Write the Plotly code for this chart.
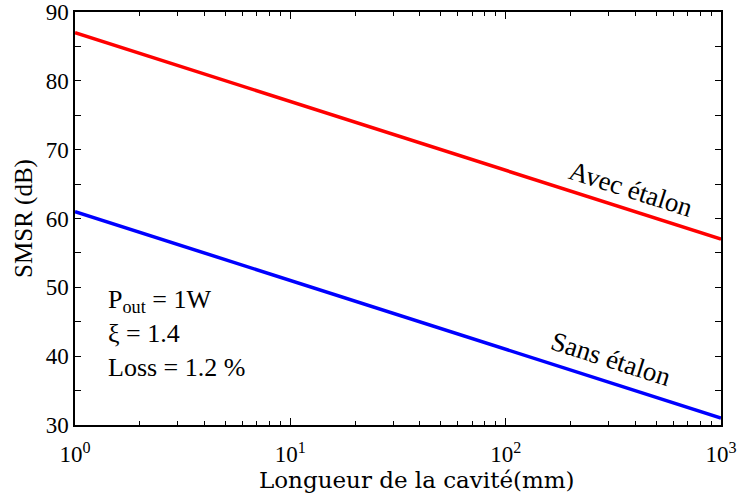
import plotly.graph_objects as go

x_vals = [1, 1000]
avec_etalon = [87, 57]
sans_etalon = [61, 31]

x_major = [1, 10, 100, 1000]
x_major_text = ["10<sup>0</sup>", "10<sup>1</sup>", "10<sup>2</sup>", "10<sup>3</sup>"]
x_minor = [2, 3, 4, 5, 6, 7, 8, 9, 20, 30, 40, 50, 60, 70, 80, 90,
           200, 300, 400, 500, 600, 700, 800, 900]
y_major = [30, 40, 50, 60, 70, 80, 90]
y_minor = [35, 45, 55, 65, 75, 85]

FONT = "Liberation Serif"
fig = go.Figure()
fig.add_trace(go.Scatter(x=x_vals, y=avec_etalon, mode="lines",
                         line=dict(color="#ff0000", width=3.5), showlegend=False))
fig.add_trace(go.Scatter(x=x_vals, y=sans_etalon, mode="lines",
                         line=dict(color="#0000ff", width=3.5), showlegend=False))

fig.add_annotation(x=2.58, y=64.3, xref="x", yref="y", text="Avec étalon",
                   showarrow=False, textangle=17.7, font=dict(family=FONT, size=27, color="black"))
fig.add_annotation(x=2.49, y=39.6, xref="x", yref="y", text="Sans étalon",
                   showarrow=False, textangle=17.7, font=dict(family=FONT, size=27, color="black"))
fig.add_annotation(x=0.048, y=0.345, xref="paper", yref="paper", xanchor="left", yanchor="top",
                   align="left", showarrow=False,
                   text="P<sub>out</sub> = 1W<br>ξ = 1.4<br>Loss = 1.2 %",
                   font=dict(family=FONT, size=26, color="black"))
# x-axis title (placed as annotation to match the reference's offset)
fig.add_annotation(x=0.529, y=-0.133, xref="paper", yref="paper", xanchor="center", yanchor="middle",
                   showarrow=False, text="Longueur de la cavité(mm)",
                   font=dict(family="DejaVu Serif", size=23, color="black"))

fig.update_layout(
    width=737, height=498,
    margin=dict(l=75, r=16, t=12, b=73),
    paper_bgcolor="white", plot_bgcolor="white",
    font=dict(family=FONT, size=22, color="black"),
)
fig.update_xaxes(type="log", range=[0, 3], automargin=False,
                 tickvals=x_major, ticktext=x_major_text,
                 tickfont=dict(family=FONT, size=23),
                 ticklabelstandoff=8,
                 ticks="inside", ticklen=7, tickcolor="black",
                 minor=dict(ticks="inside", ticklen=4, tickcolor="black", tickvals=x_minor),
                 showline=True, linecolor="black", linewidth=1.5, mirror="ticks",
                 showgrid=False, zeroline=False)
fig.update_yaxes(range=[30, 90], automargin=False,
                 tickvals=y_major,
                 tickfont=dict(family=FONT, size=23),
                 ticks="inside", ticklen=6, tickcolor="black",
                 minor=dict(ticks="inside", ticklen=6, tickcolor="black", tickvals=y_minor),
                 showline=True, linecolor="black", linewidth=1.5, mirror="ticks",
                 showgrid=False, zeroline=False,
                 title=dict(text="SMSR (dB)", standoff=6,
                            font=dict(family=FONT, size=25, color="black")))

fig.write_html("out.html", config={"displayModeBar": False},
               post_script="document.body.style.margin='0';document.body.style.padding='0';")
